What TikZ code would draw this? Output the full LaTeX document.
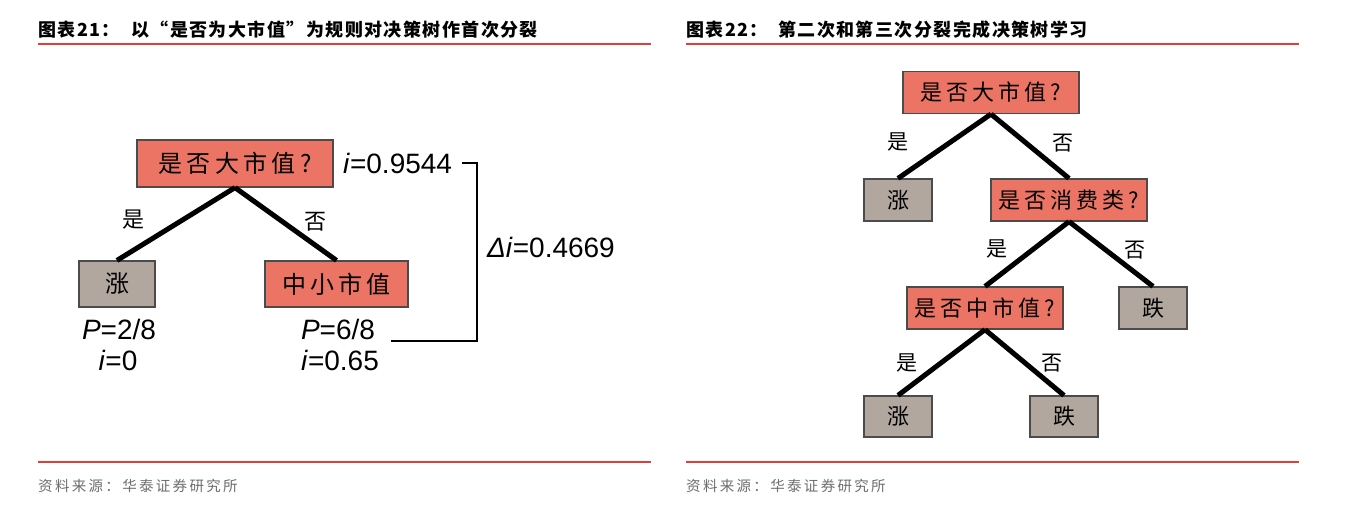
\documentclass[tikz,border=0pt]{standalone}
\usepackage{fontspec}
\setmainfont{Liberation Sans}
\newfontfamily\cjk{Noto Sans CJK SC}
\newfontfamily\cjksp[LetterSpace=18]{Noto Sans CJK SC}
\newfontfamily\cjkti[LetterSpace=8]{Noto Sans CJK SC}
\newfontfamily\cjksrc[LetterSpace=16]{Noto Sans CJK SC}
\definecolor{salmon}{RGB}{236,116,101}
\definecolor{leafgray}{RGB}{177,167,159}
\definecolor{rulered}{RGB}{226,62,55}
\definecolor{srcgray}{RGB}{110,110,110}
\definecolor{edgegray}{RGB}{75,75,75}
\tikzset{
  x=1pt, y=-1pt,
  qbox/.style={draw=edgegray, line width=1.2pt, fill=salmon, inner sep=0pt, anchor=center},
  lbox/.style={draw=edgegray, line width=1.2pt, fill=leafgray, inner sep=0pt, anchor=center},
  boxtxtA/.style={font=\cjksp\fontsize{24}{24}\selectfont},
  boxtxtB/.style={font=\cjksp\fontsize{22}{22}\selectfont},
  branch/.style={line width=5pt, black},
  elab/.style={inner sep=0pt, font=\cjk\fontsize{21}{21}\selectfont},
  mlab/.style={inner sep=0pt, font=\fontsize{28}{28}\selectfont},
  bracket/.style={line width=2.2pt, black},
  redrule/.style={draw=rulered, line width=2pt},
  title/.style={inner sep=0pt, anchor=west, font=\cjkti\bfseries\fontsize{18}{18}\selectfont},
  source/.style={inner sep=0pt, anchor=west, text=srcgray, font=\cjksrc\fontsize{14.5}{14.5}\selectfont},
}
\begin{document}
\begin{tikzpicture}
\useasboundingbox[fill=white] (0,0) rectangle (1352,508);

% ---------- Left panel ----------
\node[title] (t1a) at (38,30) {图表21：};
\node[title] (t1b) at (131,30) {以“是否为大市值”为规则对决策树作首次分裂};
\draw[redrule] (38,44) -- (651,44);
\draw[redrule] (38,462) -- (651,462);
\node[source] (s1) at (38,486) {资料来源：华泰证券研究所};

\node[qbox, boxtxtA, minimum width=196pt, minimum height=47pt] (L0) at (235,163.5) {是否大市值?};
\node[lbox, boxtxtA, minimum width=76pt, minimum height=46pt] (L1) at (117,284) {涨};
\node[qbox, boxtxtA, minimum width=143pt, minimum height=46pt] (L2) at (336.5,284) {中小市值};
\draw[branch] (L0.south) -- (L1.north);
\draw[branch] (L0.south) -- (L2.north);
\node[elab, font=\cjk\fontsize{22}{22}\selectfont] (Ly) at (133,220) {是};
\node[elab, font=\cjk\fontsize{22}{22}\selectfont] (Ln) at (315,222) {否};

\node[mlab] (p1) at (119,329) {\textit{P}=2/8};
\node[mlab] (i1) at (118,360) {\textit{i}=0};
\node[mlab] (p2) at (338,329) {\textit{P}=6/8};
\node[mlab] (i2) at (340,360) {\textit{i}=0.65};
\node[mlab, anchor=west] (i0) at (343,163) {\textit{i}=0.9544};
\node[mlab, anchor=west] (di) at (487,247) {\textit{Δi}=0.4669};
\coordinate (bA) at (462,163);
\coordinate (bB) at (477,163);
\coordinate (bC) at (477,341);
\coordinate (bD) at (391,341);
\draw[bracket] (bA) -- (bB) -- (bC) -- (bD);

% ---------- Right panel ----------
\node[title] (t2a) at (686,30) {图表22：};
\node[title] (t2b) at (778,30) {第二次和第三次分裂完成决策树学习};
\draw[redrule] (686,44) -- (1299,44);
\draw[redrule] (686,462) -- (1299,462);
\node[source] (s2) at (686,486) {资料来源：华泰证券研究所};

\node[qbox, boxtxtB, minimum width=176pt, minimum height=42pt] (R0) at (991,92.5) {是否大市值?};
\node[lbox, boxtxtB, minimum width=68pt, minimum height=42pt] (R1) at (898,200) {涨};
\node[qbox, boxtxtB, minimum width=156pt, minimum height=42pt] (R2) at (1069,200) {是否消费类?};
\node[qbox, boxtxtB, minimum width=156pt, minimum height=42pt] (R3) at (985,308) {是否中市值?};
\node[lbox, boxtxtB, minimum width=68pt, minimum height=42pt] (R4) at (1153,308) {跌};
\node[lbox, boxtxtB, minimum width=68pt, minimum height=41pt] (R5) at (898,416.5) {涨};
\node[lbox, boxtxtB, minimum width=68pt, minimum height=41pt] (R6) at (1064,416.5) {跌};

\draw[branch] (R0.south) -- (R1.north);
\draw[branch] (R0.south) -- (R2.north);
\draw[branch] (R2.south) -- (R3.north);
\draw[branch] (R2.south) -- (R4.north);
\draw[branch] (R3.south) -- (R5.north);
\draw[branch] (R3.south) -- (R6.north);

\node[elab] (ry1) at (898,142) {是};
\node[elab] (rn1) at (1063,143) {否};
\node[elab] (ry2) at (997,249) {是};
\node[elab] (rn2) at (1135,250) {否};
\node[elab] (ry3) at (907,363) {是};
\node[elab] (rn3) at (1052,363) {否};
\end{tikzpicture}
\end{document}
